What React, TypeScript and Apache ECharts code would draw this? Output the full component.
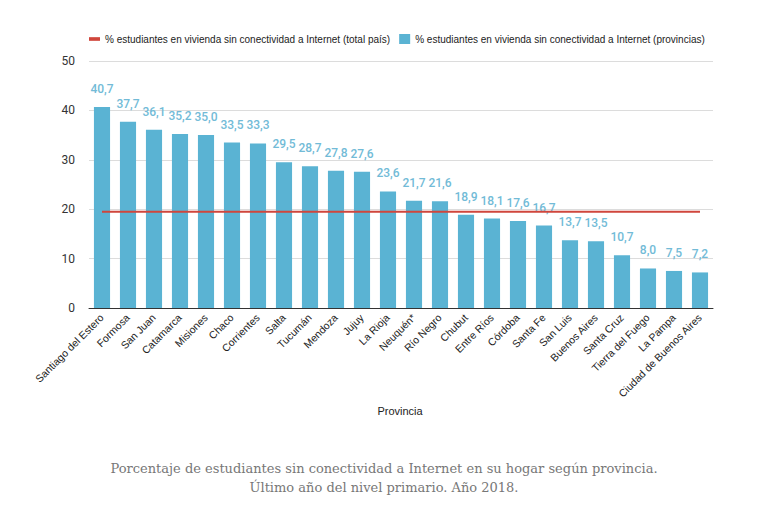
import React, { useEffect, useRef } from "react";
import * as echarts from "echarts";

const provincias = [
  "Santiago del Estero", "Formosa", "San Juan", "Catamarca", "Misiones", "Chaco",
  "Corrientes", "Salta", "Tucumán", "Mendoza", "Jujuy", "La Rioja", "Neuquén*",
  "Río Negro", "Chubut", "Entre Ríos", "Córdoba", "Santa Fe", "San Luis",
  "Buenos Aires", "Santa Cruz", "Tierra del Fuego", "La Pampa", "Ciudad de Buenos Aires",
];
const valoresProvincias = [
  40.7, 37.7, 36.1, 35.2, 35.0, 33.5, 33.3, 29.5, 28.7, 27.8, 27.6, 23.6, 21.7,
  21.6, 18.9, 18.1, 17.6, 16.7, 13.7, 13.5, 10.7, 8.0, 7.5, 7.2,
];
const totalPais = 19.5;
const valoresTotalPais = provincias.map(() => totalPais);

const serieTotal = "% estudiantes en vivienda sin conectividad a Internet (total país)";
const serieProv = "% estudiantes en vivienda sin conectividad a Internet (provincias)";

export default function App() {
  const ref = useRef<HTMLDivElement>(null);
  useEffect(() => {
    if (!ref.current) return;
    const chart = echarts.init(ref.current, null, { renderer: "svg" });
    const font = "Arial, 'Liberation Sans', sans-serif";
    chart.setOption({
      animation: false,
      backgroundColor: "#ffffff",
      textStyle: { fontFamily: font },
      legend: {
        top: 29,
        left: 84,
        itemGap: 9,
        itemWidth: 11,
        itemHeight: 10,
        textStyle: { fontSize: 10, color: "#222", fontFamily: font },
        data: [
          { name: serieTotal, icon: "path://M0,0H12V4H0Z", itemStyle: { color: "#d0463c" } },
          { name: serieProv, icon: "rect" },
        ],
      },
      grid: { left: 89, right: 55, top: 61, bottom: 217, containLabel: false },
      xAxis: {
        type: "category",
        data: provincias,
        axisLine: { lineStyle: { color: "#333", width: 1 } },
        axisTick: { show: false },
        axisLabel: {
          rotate: 45,
          interval: 0,
          fontSize: 10.5,
          color: "#222",
          margin: 8,
          fontFamily: font,
        },
      },
      yAxis: {
        type: "value",
        min: 0,
        max: 50,
        interval: 10,
        axisLine: { show: false },
        axisTick: { show: false },
        axisLabel: { fontSize: 12, color: "#333", margin: 14, fontFamily: "Roboto, sans-serif" },
        splitLine: { lineStyle: { color: "#dcdcdc" } },
      },
      series: [
        {
          name: serieProv,
          type: "bar",
          data: valoresProvincias,
          barCategoryGap: "38%",
          itemStyle: { color: "#5ab3d3" },
          label: {
            show: true,
            position: "top",
            distance: 12,
            fontSize: 12,
            fontWeight: 500,
            color: "#72bbd7",
            fontFamily: "Roboto, sans-serif",
            formatter: (p: any) => p.value.toFixed(1).replace(".", ","),
          },
          z: 2,
        },
        {
          name: serieTotal,
          type: "line",
          data: valoresTotalPais,
          symbol: "none",
          lineStyle: { color: "#d0463c", width: 2 },
          itemStyle: { color: "#d0463c" },
          z: 3,
        },
      ],
      graphic: [
        {
          type: "text",
          x: 400,
          y: 405,
          style: { text: "Provincia", fontSize: 11, fill: "#222", fontFamily: font, textAlign: "center" },
        },
        {
          type: "text",
          x: 384,
          y: 459,
          style: {
            text:
              "Porcentaje de estudiantes sin conectividad a Internet en su hogar según provincia.\nÚltimo año del nivel primario. Año 2018.",
            fontSize: 13,
            lineHeight: 19,
            fill: "#777",
            textAlign: "center",
            align: "center",
            fontFamily: "'DejaVu Serif', 'Liberation Serif', serif",
          },
        },
      ],
    });
    return () => chart.dispose();
  }, []);
  return <div ref={ref} style={{ width: 768, height: 525, position: "absolute", left: 0, top: 0 }} />;
}
